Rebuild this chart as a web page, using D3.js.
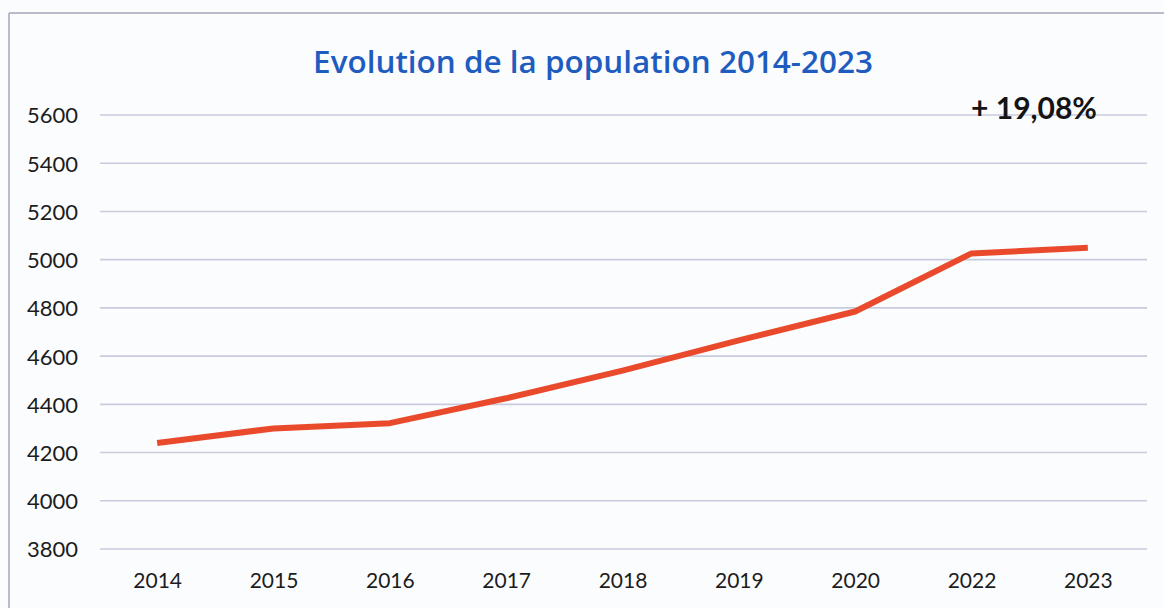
<!DOCTYPE html>
<html lang="fr">
<head>
<meta charset="utf-8">
<script src="https://cdn.jsdelivr.net/npm/d3@7"></script>
<style>
  html, body { margin: 0; padding: 0; background: #fbfcfe; }
  svg { display: block; }
</style>
</head>
<body>
<svg id="chart" width="1164" height="608"></svg>
<script>
// Population par année
const years = ["2014", "2015", "2016", "2017", "2018", "2019", "2020", "2022", "2023"];
const population = [4240, 4300, 4322, 4425, 4540, 4665, 4785, 5026, 5049];
const yTicks = [3800, 4000, 4200, 4400, 4600, 4800, 5000, 5200, 5400, 5600];
const titleText = "Evolution de la population 2014-2023";
const growthText = "+ 19,08%";

const svg = d3.select("#chart");
const W = 1164, H = 608;

// Cadre du graphique
svg.append("line").attr("x1", 9).attr("x2", W).attr("y1", 13).attr("y2", 13)
  .attr("stroke", "#a3a8b8").attr("stroke-width", 1.5);
svg.append("line").attr("x1", 9).attr("x2", 9).attr("y1", 13).attr("y2", H)
  .attr("stroke", "#a3a8b8").attr("stroke-width", 1.5);

const x = d3.scalePoint().domain(years).range([99, 1146]).padding(0.5);
const y = d3.scaleLinear().domain([3800, 5600]).range([549, 115]);

// Quadrillage horizontal
svg.append("g").selectAll("line").data(yTicks).join("line")
  .attr("x1", 100).attr("x2", 1147)
  .attr("y1", d => y(d)).attr("y2", d => y(d))
  .attr("stroke", "#c7cbdd").attr("stroke-width", 1.6);

// Axe Y
const yAxis = d3.axisLeft(y).tickValues(yTicks).tickSize(0).tickPadding(0).tickFormat(d3.format("d"));
const gy = svg.append("g").attr("transform", "translate(78,0)").call(yAxis);
gy.select(".domain").remove();
gy.selectAll("text")
  .attr("font-family", "Lato, 'Open Sans', sans-serif")
  .attr("font-size", 22).attr("fill", "#1c1c1c").attr("dy", "0.36em");

// Axe X
const xAxis = d3.axisBottom(x).tickSize(0).tickPadding(0);
const gx = svg.append("g").attr("transform", "translate(0,588)").call(xAxis);
gx.select(".domain").remove();
gx.selectAll("text")
  .attr("font-family", "Lato, 'Open Sans', sans-serif")
  .attr("font-size", 21).attr("fill", "#1c1c1c").attr("dy", 0);

// Courbe de population
const line = d3.line().x((d, i) => x(years[i])).y(d => y(d));
svg.append("path").datum(population)
  .attr("d", line)
  .attr("fill", "none")
  .attr("stroke", "#ea4a2c")
  .attr("stroke-width", 6)
  .attr("stroke-linejoin", "round")
  .attr("stroke-linecap", "butt");

// Titre
const title = svg.append("text")
  .attr("x", 593).attr("y", 73)
  .attr("text-anchor", "middle")
  .attr("font-family", "'Comic Sans MS', 'Open Sans', sans-serif")
  .attr("font-weight", 600)
  .attr("font-size", 30)
  .attr("fill", "#1f5cc0")
  .text(titleText);
const tw = title.node().getComputedTextLength();
title.attr("font-size", 30 * 560 / tw);

// Croissance sur la période
svg.append("text")
  .attr("x", 1034).attr("y", 119)
  .attr("text-anchor", "middle")
  .attr("font-family", "Lato, 'Open Sans', sans-serif")
  .attr("font-weight", 700)
  .attr("font-size", 30)
  .attr("fill", "#141414")
  .text(growthText);
</script>
</body>
</html>
